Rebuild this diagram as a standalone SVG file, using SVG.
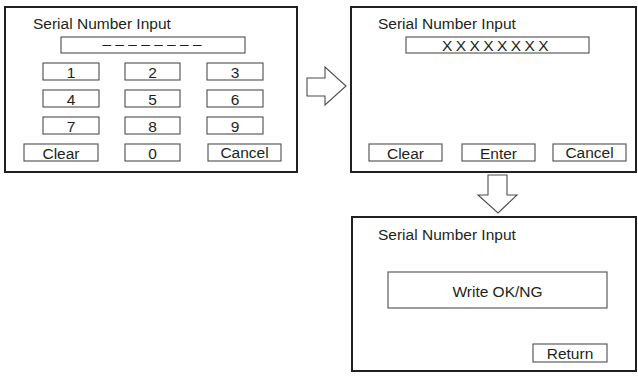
<svg xmlns="http://www.w3.org/2000/svg" width="638" height="381" viewBox="0 0 638 381">
<style>
.panel{fill:#fff;stroke:#231f20;stroke-width:2}
.box{fill:#fff;stroke:#4d4d4f;stroke-width:1.1}
.t{font-family:"Liberation Sans",Arial,sans-serif;font-size:15.5px;fill:#231f20}
.c{text-anchor:middle}
.arrow{fill:#fff;stroke:#4d4d4f;stroke-width:1.1;stroke-linejoin:miter}
</style>
<rect width="638" height="381" fill="#fff"/>
<g id="panel1">
<rect class="panel" x="5" y="7" width="292" height="165"/>
<text class="t" x="33" y="29">Serial Number Input</text>
<rect class="box" x="61" y="37" width="184" height="16"/>
<text class="t c" x="152" y="49">– – – – – – – –</text>
<g id="key1"><rect class="box" x="43" y="63" width="56" height="17"/><text class="t c" x="71" y="77.5">1</text></g>
<g id="key2"><rect class="box" x="125" y="63" width="55" height="17"/><text class="t c" x="152.5" y="77.5">2</text></g>
<g id="key3"><rect class="box" x="207" y="63" width="56" height="17"/><text class="t c" x="235" y="77.5">3</text></g>
<g id="key4"><rect class="box" x="43" y="90" width="56" height="17"/><text class="t c" x="71" y="104.5">4</text></g>
<g id="key5"><rect class="box" x="125" y="90" width="55" height="17"/><text class="t c" x="152.5" y="104.5">5</text></g>
<g id="key6"><rect class="box" x="207" y="90" width="56" height="17"/><text class="t c" x="235" y="104.5">6</text></g>
<g id="key7"><rect class="box" x="43" y="117" width="56" height="17"/><text class="t c" x="71" y="131.5">7</text></g>
<g id="key8"><rect class="box" x="125" y="117" width="55" height="17"/><text class="t c" x="152.5" y="131.5">8</text></g>
<g id="key9"><rect class="box" x="207" y="117" width="56" height="17"/><text class="t c" x="235" y="131.5">9</text></g>
<g id="keyClear"><rect class="box" x="24" y="144" width="74" height="17"/><text class="t c" x="61" y="158.5">Clear</text></g>
<g id="key0"><rect class="box" x="125" y="144" width="55" height="17"/><text class="t c" x="152.5" y="158.5">0</text></g>
<g id="keyCancel"><rect class="box" x="208" y="144" width="73" height="17"/><text class="t c" x="244.5" y="158">Cancel</text></g>
</g>
<g id="panel2">
<rect class="panel" x="351" y="7" width="285" height="165"/>
<text class="t" x="378" y="29">Serial Number Input</text>
<rect class="box" x="406" y="37" width="183" height="16"/>
<text class="t c" x="497" y="50.5" letter-spacing="3.4">XXXXXXXX</text>
<g id="btnClear2"><rect class="box" x="369" y="144" width="73" height="17"/><text class="t c" x="405.5" y="158.5">Clear</text></g>
<g id="btnEnter"><rect class="box" x="462" y="144" width="73" height="17"/><text class="t c" x="498.5" y="158.5">Enter</text></g>
<g id="btnCancel2"><rect class="box" x="553" y="144" width="73" height="17"/><text class="t c" x="589.5" y="158">Cancel</text></g>
</g>
<g id="panel3">
<rect class="panel" x="352" y="217" width="284" height="154"/>
<text class="t" x="378" y="240">Serial Number Input</text>
<rect class="box" x="388" y="272" width="219" height="36"/>
<text class="t c" x="497.5" y="296.5">Write OK/NG</text>
<g id="btnReturn"><rect class="box" x="533" y="344" width="74" height="18"/><text class="t c" x="570" y="358.5">Return</text></g>
</g>
<g id="connectors">
<polygon class="arrow" points="307,78 325,78 325,67 346,86 325,105 325,96 307,96"/>
<polygon class="arrow" points="488,175 507,175 507,195 517,195 498,213 478,195 488,195"/>
</g>
</svg>
